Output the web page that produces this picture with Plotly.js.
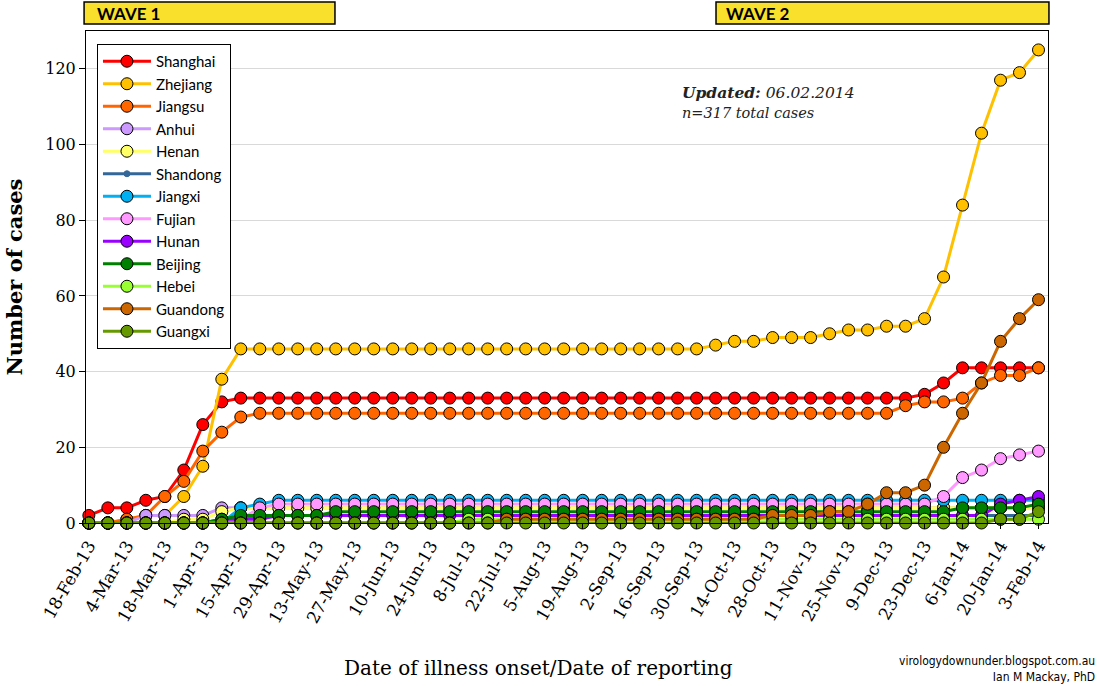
<!DOCTYPE html>
<html>
<head>
<meta charset="utf-8">
<script src="https://cdn.plot.ly/plotly-3.0.1.min.js"></script>
<style>
html,body{margin:0;padding:0;background:#fff;}
#chart{width:1100px;height:686px;}
</style>
</head>
<body>
<div id="chart"></div>
<script>
// Weekly dates (illness onset / reporting)
const dates = ["18-Feb-13","25-Feb-13","4-Mar-13","11-Mar-13","18-Mar-13","25-Mar-13","1-Apr-13","8-Apr-13","15-Apr-13","22-Apr-13",
"29-Apr-13","6-May-13","13-May-13","20-May-13","27-May-13","3-Jun-13","10-Jun-13","17-Jun-13","24-Jun-13","1-Jul-13",
"8-Jul-13","15-Jul-13","22-Jul-13","29-Jul-13","5-Aug-13","12-Aug-13","19-Aug-13","26-Aug-13","2-Sep-13","9-Sep-13",
"16-Sep-13","23-Sep-13","30-Sep-13","7-Oct-13","14-Oct-13","21-Oct-13","28-Oct-13","4-Nov-13","11-Nov-13","18-Nov-13",
"25-Nov-13","2-Dec-13","9-Dec-13","16-Dec-13","23-Dec-13","30-Dec-13","6-Jan-14","13-Jan-14","20-Jan-14","27-Jan-14","3-Feb-14"];

const shanghai = [2,4,4,6,7,14,26,32,33,33, 33,33,33,33,33,33,33,33,33,33, 33,33,33,33,33,33,33,33,33,33, 33,33,33,33,33,33,33,33,33,33, 33,33,33,33,34,37,41,41,41,41,41];
const zhejiang = [0,0,1,2,2,7,15,38,46,46, 46,46,46,46,46,46,46,46,46,46, 46,46,46,46,46,46,46,46,46,46, 46,46,46,47,48,48,49,49,49,50, 51,51,52,52,54,65,84,103,117,119,125];
const jiangsu  = [0,0,1,2,7,11,19,24,28,29, 29,29,29,29,29,29,29,29,29,29, 29,29,29,29,29,29,29,29,29,29, 29,29,29,29,29,29,29,29,29,29, 29,29,29,31,32,32,33,37,39,39,41];
const anhui    = [0,0,0,2,2,2,2,4,4,4, 4,4,4,4,4,4,4,4,4,4, 4,4,4,4,4,4,4,4,4,4, 4,4,4,4,4,4,4,4,4,4, 4,4,4,4,4,4,4,4,4,4,4];
const henan    = [0,0,0,0,0,1,1,3,4,4, 4,4,4,4,4,4,4,4,4,4, 4,4,4,4,4,4,4,4,4,4, 4,4,4,4,4,4,4,4,4,4, 4,4,4,4,4,4,4,4,4,4,4];
const shandong = [0,0,0,0,0,0,0,0,1,2, 2,2,2,2,2,2,2,2,2,2, 2,2,2,2,2,2,2,2,2,2, 2,2,2,2,2,2,2,2,2,2, 2,2,2,2,2,2,2,2,2,2,2];
const jiangxi  = [0,0,0,0,0,0,0,0,4,5, 6,6,6,6,6,6,6,6,6,6, 6,6,6,6,6,6,6,6,6,6, 6,6,6,6,6,6,6,6,6,6, 6,6,6,6,6,6,6,6,6,6,6];
const fujian   = [0,0,0,0,0,0,0,0,1,4, 5,5,5,5,5,5,5,5,5,5, 5,5,5,5,5,5,5,5,5,5, 5,5,5,5,5,5,5,5,5,5, 5,5,5,5,5,7,12,14,17,18,19];
const hunan    = [0,0,0,0,0,0,0,1,1,1, 2,2,2,2,2,2,2,2,2,2, 2,2,2,2,2,2,2,2,2,2, 2,2,2,2,2,2,2,2,2,2, 2,2,2,2,2,2,2,2,5,6,7];
const beijing  = [0,0,0,0,0,0,0,1,2,2, 2,2,2,3,3,3,3,3,3,3, 3,3,3,3,3,3,3,3,3,3, 3,3,3,3,3,3,3,3,3,3, 3,3,3,3,3,3,4,4,4,4,5];
const hebei    = [0,0,0,0,0,0,0,0,0,0, 0,0,0,0,0,0,0,0,0,0, 1,1,1,1,1,1,1,1,1,1, 1,1,1,1,1,1,1,1,1,1, 1,1,1,1,1,1,1,1,1,1,1];
const guandong = [0,0,0,0,0,0,0,0,0,0, 0,0,0,0,0,0,0,0,0,0, 0,0,1,1,1,1,1,1,1,1, 1,1,1,1,1,1,2,2,2,3, 3,5,8,8,10,20,29,37,48,54,59];
const guangxi  = [0,0,0,0,0,0,0,0,0,0, 0,0,0,0,0,0,0,0,0,0, 0,0,0,0,0,0,0,0,0,0, 0,0,0,0,0,0,0,0,0,0, 0,0,0,0,0,0,0,0,1,1,3];

const provinces = ["Shanghai","Zhejiang","Jiangsu","Anhui","Henan","Shandong","Jiangxi","Fujian","Hunan","Beijing","Hebei","Guandong","Guangxi"];
const seriesValues = [shanghai,zhejiang,jiangsu,anhui,henan,shandong,jiangxi,fujian,hunan,beijing,hebei,guandong,guangxi];
const colors = ["#ff0000","#ffc000","#ff6600","#cc99ff","#ffff66","#336699","#00b0f0","#ff99ff","#9900ff","#008000","#99ff33","#cc6600","#669900"];

const yTickVals = [0,20,40,60,80,100,120];
const xTickVals = dates.filter((d,i)=>i%2===0);

const traces = provinces.map((name,k)=>({
  type:'scatter', mode:'lines+markers', name:name,
  x:dates, y:seriesValues[k],
  line:{color:colors[k], width:3},
  marker:{color:colors[k], size: name==="Shandong"?6:12, line:{color: name==="Shandong"?colors[k]:'#000', width:1}},
  cliponaxis:false
}));

const serif = "DejaVu Serif, Liberation Serif, serif";
const sans = "Lato, Open Sans, sans-serif";
const layout = {
  width:1100, height:686,
  margin:{l:86, r:52, t:31, b:163},
  paper_bgcolor:'#fff', plot_bgcolor:'#fff',
  showlegend:true,
  legend:{x:0.0114, y:0.9736, xanchor:'left', yanchor:'top', bgcolor:'#fff', bordercolor:'#000', borderwidth:1,
          font:{family:sans, size:15, color:'#000'}, itemwidth:48, entrywidth:158, tracegroupgap:0},
  xaxis:{type:'category', range:[-0.15,50.5], tickvals:xTickVals, ticktext:xTickVals, tickangle:-60,
         ticks:'outside', ticklen:5, tickcolor:'#000', showgrid:false, zeroline:false,
         showline:true, linecolor:'#000', linewidth:1, mirror:true,
         tickfont:{family:serif, size:17, color:'#000'}},
  yaxis:{range:[0,130], tickvals:yTickVals, ticks:'outside', ticklen:6, tickcolor:'#000',
         showgrid:true, gridcolor:'#d9d9d9', gridwidth:1, zeroline:false,
         showline:true, linecolor:'#000', linewidth:1, mirror:true,
         tickfont:{family:serif, size:16, color:'#000'},
         title:{text:"<b>Number of cases</b>", font:{family:serif, size:21, color:'#000'}, standoff:16}},
  shapes:[
    {type:'rect', xref:'paper', yref:'paper', x0:-0.002, x1:0.2588, y0:1.0142, y1:1.0589, fillcolor:'#f9e02c', line:{color:'#000', width:1.5}},
    {type:'rect', xref:'paper', yref:'paper', x0:0.6549, x1:1.001, y0:1.0142, y1:1.0589, fillcolor:'#f9e02c', line:{color:'#000', width:1.5}}
  ],
  annotations:[
    {xref:'paper', yref:'paper', x:0.47, y:-0.2947, xanchor:'center', yanchor:'middle', showarrow:false,
     text:"Date of illness onset/Date of reporting", font:{family:serif, size:20, color:'#000'}},
    {xref:'paper', yref:'paper', x:0.009, y:1.0365, xanchor:'left', yanchor:'middle', showarrow:false, text:"<b>WAVE 1</b>", font:{family:sans, size:17, color:'#000'}},
    {xref:'paper', yref:'paper', x:0.6635, y:1.0365, xanchor:'left', yanchor:'middle', showarrow:false, text:"<b>WAVE 2</b>", font:{family:sans, size:17, color:'#000'}},
    {xref:'paper', yref:'paper', x:0.6175, y:0.874, xanchor:'left', yanchor:'middle', showarrow:false, align:'left',
     text:"<b><i>Updated:</i></b><i> 06.02.2014</i>", font:{family:serif, size:15.5, color:'#222'}},
    {xref:'paper', yref:'paper', x:0.6175, y:0.833, xanchor:'left', yanchor:'middle', showarrow:false, align:'left',
     text:"<i>n=317 total cases</i>", font:{family:serif, size:14.5, color:'#222'}},
    {xref:'paper', yref:'paper', x:1.051, y:-0.2965, xanchor:'right', yanchor:'middle', showarrow:false, align:'right',
     text:"virologydownunder.blogspot.com.au<br>Ian M Mackay, PhD", font:{family:"DejaVu Sans Condensed, DejaVu Sans, sans-serif", size:12, color:'#000'}}
  ]
};

Plotly.newPlot('chart', traces, layout, {displayModeBar:false, staticPlot:true});
</script>
</body>
</html>
